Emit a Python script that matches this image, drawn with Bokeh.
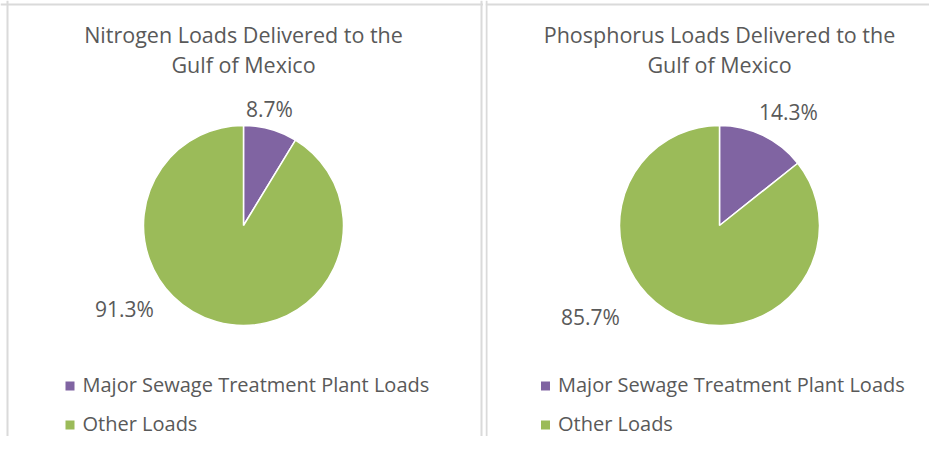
import numpy as np
from bokeh.plotting import figure
from bokeh.models import Range1d, ColumnDataSource, Span
from bokeh.layouts import row
from bokeh.embed import file_html
from bokeh.resources import INLINE
from bokeh.core.properties import value

# ---- data ----
categories = ["Major Sewage Treatment Plant Loads", "Other Loads"]
colors = ["#8064A2", "#9BBB59"]
nitrogen_title = ["Nitrogen Loads Delivered to the", "Gulf of Mexico"]
phosphorus_title = ["Phosphorus Loads Delivered to the", "Gulf of Mexico"]
nitrogen_share = [8.7, 91.3]
phosphorus_share = [14.3, 85.7]

FONT = "Open Sans"
TEXT_COLOR = "#595959"
BORDER = "#DADADA"
H = 436


def make_panel(title_lines, shares, cx, label_offsets, width, borders_x, legend_x):
    p = figure(width=width, height=H, output_backend="svg", toolbar_location=None,
               x_range=Range1d(0, width), y_range=Range1d(0, H),
               min_border=0, background_fill_color="white", border_fill_color="white")
    p.axis.visible = False
    p.grid.visible = False
    p.outline_line_color = None

    # panel borders
    for bx in borders_x:
        p.add_layout(Span(location=bx, dimension="height", line_color=BORDER, line_width=2))
    p.add_layout(Span(location=H - 4, dimension="width", line_color=BORDER, line_width=2))

    cy, r = H - 225, 100
    vals = np.array(shares, dtype=float)
    frac = vals / vals.sum()
    cum = np.concatenate([[0], np.cumsum(frac)])
    start = np.pi / 2 - 2 * np.pi * cum[:-1]
    end = np.pi / 2 - 2 * np.pi * cum[1:]
    src = ColumnDataSource(dict(start=start, end=end, color=colors, cat=categories,
                                label=[f"{v:.1f}%" for v in shares]))
    p.wedge(x=cx, y=cy, radius=r, start_angle="start", end_angle="end",
            direction="clock", fill_color="color", line_color="white",
            line_width=1.5, source=src)

    # data labels
    lx = [cx + dx for dx, dy in label_offsets]
    ly = [cy + dy for dx, dy in label_offsets]
    p.text(x=lx, y=ly, text=src.data["label"], text_font=value(FONT),
           text_font_size="21px", text_color=TEXT_COLOR,
           text_align="center", text_baseline="middle")

    # title
    p.text(x=[cx, cx], y=[H - 34, H - 63.5], text=title_lines,
           text_font=value(FONT), text_font_size="21.5px", text_color=TEXT_COLOR,
           text_align="center", text_baseline="middle")

    # legend
    ys = [H - 385.5, H - 424.5]
    p.scatter(x=[legend_x] * len(categories), y=ys, marker="square", size=9,
              fill_color=colors, line_color=None)
    p.text(x=[legend_x + 12.5] * len(categories), y=[y + 1.5 for y in ys], text=categories,
           text_font=value(FONT), text_font_size="20px", text_color=TEXT_COLOR,
           text_align="left", text_baseline="middle")
    return p


p1 = make_panel(nitrogen_title, nitrogen_share, 243, [(26, 117), (-119, -83)],
                483, [7, 481], 69.5)
p2 = make_panel(phosphorus_title, phosphorus_share, 234, [(69, 114), (-129, -91)],
                444, [1], 60)

layout = row(p1, p2, spacing=2)
open("out.html", "w").write(file_html(layout, INLINE))
